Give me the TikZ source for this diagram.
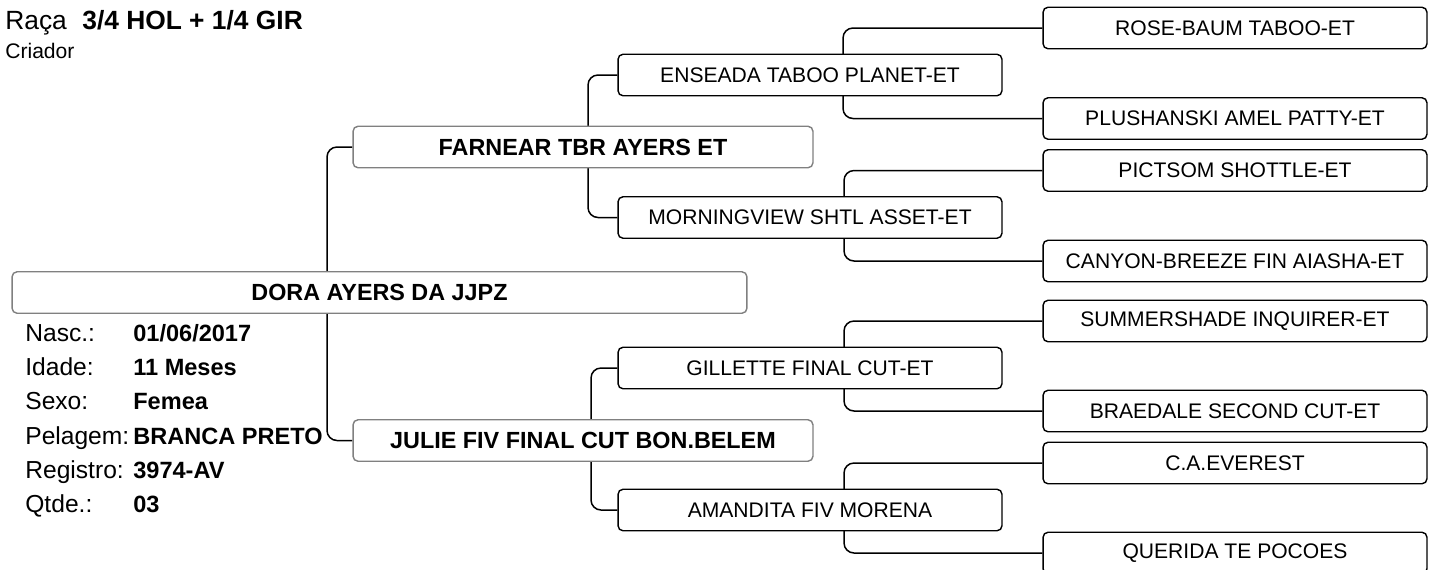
\documentclass[tikz,border=0pt]{standalone}
\usepackage{fontspec}
\setmainfont{Liberation Sans}
\usetikzlibrary{backgrounds}

\begin{document}
\begin{tikzpicture}[x=0.02cm,y=-0.02cm,font=\fontsize{12}{14}\selectfont,
 main/.style={draw=black!50,line width=.8pt,rounded corners=1mm,fill=white,minimum height=0.83cm,inner sep=0pt,font=\bfseries\fontsize{13.3}{15}\selectfont},
 anc/.style={draw,line width=.8pt,rounded corners=1mm,fill=white,minimum width=7.68cm,minimum height=0.83cm,inner sep=0pt},
 link/.style={line width=.85pt,rounded corners=2mm},
 txt/.style={anchor=base west,inner sep=0pt},
 lbl/.style={txt,font=\fontsize{14}{16}\selectfont},
 val/.style={txt,font=\bfseries\fontsize{13.4}{15}\selectfont}]
\useasboundingbox (0,0) rectangle (1439,569);
\node[txt,font=\fontsize{15}{17}\selectfont] (race) at (5,29) {Raça};
\node[txt,font=\bfseries\fontsize{15}{17}\selectfont] (breed) at (82,29) {3/4 HOL + 1/4 GIR};
\node[txt] (breeder) at (5,58) {Criador};
\node[main,minimum width=14.7cm] (s) at (379.5,292.5) {DORA AYERS DA JJPZ};
\node[main,minimum width=9.2cm] (f) at (583,147) {FARNEAR TBR AYERS ET};
\node[main,minimum width=9.2cm] (m) at (583,440.5) {JULIE FIV FINAL CUT BON.BELEM};
\node[anc] (ff) at (810,75) {ENSEADA TABOO PLANET-ET};
\node[anc] (fm) at (810,217.5) {MORNINGVIEW SHTL ASSET-ET};
\node[anc] (mf) at (810,368) {GILLETTE FINAL CUT-ET};
\node[anc] (mm) at (810,510) {AMANDITA FIV MORENA};
\foreach \n/\y/\t in {fff/28/ROSE-BAUM TABOO-ET,ffm/118.5/PLUSHANSKI AMEL PATTY-ET,fmf/170.5/PICTSOM SHOTTLE-ET,fmm/261/CANYON-BREEZE FIN AIASHA-ET,mff/321/SUMMERSHADE INQUIRER-ET,mfm/411/BRAEDALE SECOND CUT-ET,mmf/463/C.A.EVEREST,mmm/553/QUERIDA TE POCOES}{\node[anc] (\n) at (1235,\y) {\t};}
\foreach \l/\v/\y [count=\i] in {{Nasc.:}/{01/06/2017}/341,{Idade:}/{11 Meses}/375,{Sexo:}/{Femea}/409,{Pelagem:}/{BRANCA PRETO}/444,{Registro:}/{3974-AV}/478,{Qtde.:}/{03}/512}{
 \node[lbl] (l\i) at (25,\y) {\l};
 \node[val] (v\i) at (133,\y) {\v};}
\begin{scope}[on background layer]
\foreach \p/\d/\a/\b in {s/-52.5/f/m,f/5/ff/fm,m/8/mf/mm,ff/33/fff/ffm,fm/34/fmf/fmm,mf/34/mff/mfm,mm/34/mmf/mmm}{
 \draw[link] (\p.center) ++(\d,0) |- (\a.west);
 \draw[link] (\p.center) ++(\d,0) |- (\b.west);}
\end{scope}
\end{tikzpicture}
\end{document}
